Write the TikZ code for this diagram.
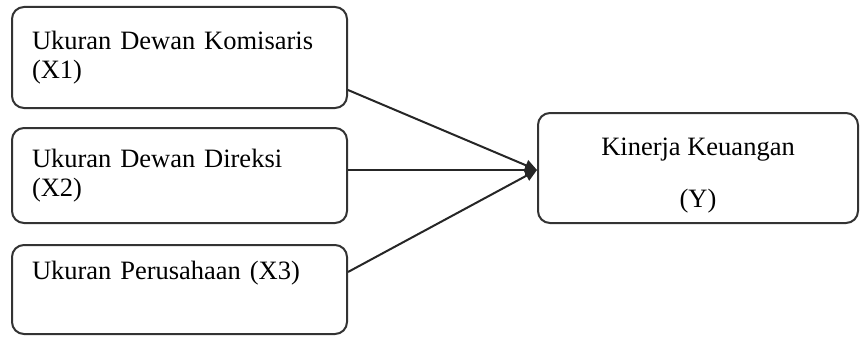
\documentclass[tikz,border=0pt]{standalone}
\usepackage{fontspec}
\setmainfont{Liberation Serif}
\usetikzlibrary{arrows.meta}
\begin{document}
\begin{tikzpicture}[x=1pt,y=-1pt,
  box/.style={draw=black!80, line width=2pt, rounded corners=12pt, inner sep=0pt,
    font=\fontsize{26.5}{29}\selectfont},
  leftbox/.style={box, minimum width=335pt, text width=295pt, align=left},
  conn/.style={draw=black!85, line width=2pt, -{Triangle[length=12pt,width=11pt]}}]
\useasboundingbox (0,0) rectangle (860,337);
\node[leftbox, minimum height=101pt] (b1) at (179.5,57.5) {Ukuran Dewan Komisaris\\(X1)};
\node[leftbox, minimum height=95pt] (b2) at (179.5,175.5) {Ukuran Dewan Direksi\\(X2)};
\node[leftbox, minimum height=89pt] (b3) at (179.5,289.5) {Ukuran Perusahaan (X3)\\\strut};
\node[box, minimum width=320pt, minimum height=110pt, align=center] (y) at (698,168) {\rule{0pt}{32pt}Kinerja Keuangan\\[23pt](Y)};
\draw[conn] ([yshift=-32.5pt]b1.east) -- ([yshift=-2pt]y.west);
\draw[conn] ([yshift=5.5pt]b2.east) -- ([yshift=-2pt]y.west);
\draw[conn] ([yshift=17.5pt]b3.east) -- ([yshift=-2pt]y.west);
\end{tikzpicture}
\end{document}
